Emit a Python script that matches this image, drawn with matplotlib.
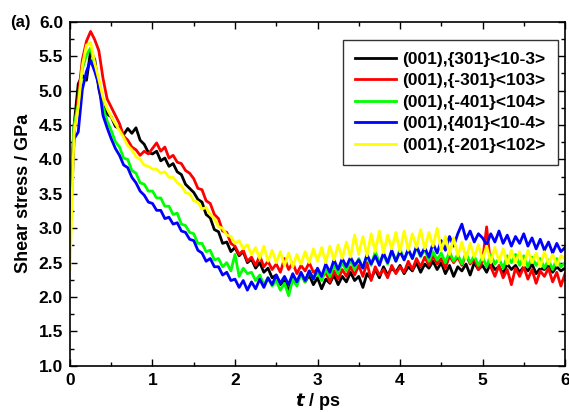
import numpy as np
import matplotlib
matplotlib.use("Agg")
import matplotlib.pyplot as plt
from matplotlib.ticker import MultipleLocator, FormatStrFormatter

plt.rcParams["font.family"] = ["Liberation Sans", "DejaVu Sans"]
plt.rcParams["font.weight"] = "bold"

# shear stress sampled every 0.05 ps, 0 .. 6 ps
T = np.round(np.arange(0, 6.0001, 0.05), 2)

BLACK_301 = [
    3.40, 4.50, 5.10, 5.22, 5.15, 5.58, 5.45, 5.02, 4.78, 4.66,
    4.62, 4.48, 4.45, 4.36, 4.45, 4.38, 4.46, 4.28, 4.22, 4.10,
    4.08, 4.12, 3.98, 4.02, 3.90, 3.94, 3.82, 3.78, 3.64, 3.58,
    3.52, 3.42, 3.38, 3.20, 3.15, 2.98, 2.95, 2.78, 2.80, 2.66,
    2.72, 2.60, 2.66, 2.50, 2.55, 2.42, 2.50, 2.36, 2.42, 2.28,
    2.32, 2.18, 2.24, 2.08, 2.30, 2.20, 2.34, 2.22, 2.32, 2.18,
    2.28, 2.12, 2.26, 2.20, 2.32, 2.18, 2.30, 2.22, 2.36, 2.24,
    2.30, 2.14, 2.34, 2.26, 2.40, 2.28, 2.44, 2.32, 2.42, 2.36,
    2.46, 2.34, 2.44, 2.38, 2.50, 2.36, 2.48, 2.42, 2.52, 2.40,
    2.50, 2.34, 2.46, 2.30, 2.44, 2.38, 2.48, 2.32, 2.50, 2.40,
    2.46, 2.36, 2.50, 2.40, 2.44, 2.34, 2.48, 2.40, 2.46, 2.36,
    2.44, 2.38, 2.48, 2.34, 2.42, 2.40, 2.46, 2.36, 2.44, 2.38,
    2.42,
]

RED_M301 = [
    3.10, 4.40, 4.92, 5.45, 5.72, 5.86, 5.74, 5.58, 5.18, 4.88,
    4.76, 4.64, 4.52, 4.34, 4.28, 4.18, 4.14, 4.06, 4.12, 4.08,
    4.16, 4.24, 4.12, 4.18, 4.02, 4.06, 3.96, 3.94, 3.84, 3.80,
    3.72, 3.58, 3.56, 3.40, 3.36, 3.20, 3.14, 2.96, 2.94, 2.78,
    2.74, 2.62, 2.68, 2.52, 2.58, 2.46, 2.60, 2.44, 2.52, 2.40,
    2.48, 2.36, 2.56, 2.40, 2.50, 2.34, 2.46, 2.38, 2.50, 2.36,
    2.40, 2.28, 2.36, 2.22, 2.38, 2.26, 2.40, 2.30, 2.44, 2.32,
    2.46, 2.30, 2.50, 2.24, 2.44, 2.32, 2.40, 2.28, 2.46, 2.34,
    2.44, 2.36, 2.52, 2.40, 2.56, 2.44, 2.58, 2.46, 2.60, 2.48,
    2.56, 2.42, 2.60, 2.50, 2.58, 2.46, 2.62, 2.48, 2.56, 2.40,
    2.52, 3.02, 2.44, 2.30, 2.46, 2.28, 2.40, 2.18, 2.42, 2.30,
    2.44, 2.26, 2.40, 2.20, 2.38, 2.30, 2.42, 2.22, 2.36, 2.16,
    2.34,
]

GREEN_M401 = [
    3.30, 4.50, 4.80, 5.32, 5.52, 5.62, 5.36, 5.12, 4.76, 4.56,
    4.42, 4.26, 4.18, 4.02, 4.00, 3.84, 3.80, 3.66, 3.64, 3.54,
    3.54, 3.44, 3.44, 3.32, 3.32, 3.20, 3.22, 3.06, 3.04, 2.94,
    2.92, 2.78, 2.78, 2.66, 2.68, 2.54, 2.56, 2.44, 2.50, 2.38,
    2.62, 2.30, 2.42, 2.34, 2.36, 2.24, 2.32, 2.18, 2.28, 2.16,
    2.24, 2.10, 2.20, 2.02, 2.26, 2.16, 2.34, 2.22, 2.38, 2.26,
    2.36, 2.24, 2.40, 2.30, 2.46, 2.34, 2.50, 2.38, 2.54, 2.40,
    2.56, 2.42, 2.60, 2.46, 2.66, 2.50, 2.62, 2.48, 2.66, 2.52,
    2.70, 2.54, 2.68, 2.56, 2.72, 2.58, 2.70, 2.52, 2.66, 2.54,
    2.64, 2.50, 2.66, 2.52, 2.62, 2.48, 2.64, 2.50, 2.60, 2.46,
    2.58, 2.44, 2.62, 2.48, 2.56, 2.42, 2.60, 2.50, 2.62, 2.46,
    2.60, 2.44, 2.58, 2.46, 2.56, 2.42, 2.54, 2.40, 2.56, 2.44,
    2.50,
]

BLUE_401 = [
    2.90, 4.30, 4.40, 5.02, 5.28, 5.44, 5.28, 5.08, 4.64, 4.46,
    4.30, 4.16, 4.06, 3.92, 3.88, 3.74, 3.66, 3.54, 3.48, 3.38,
    3.36, 3.26, 3.26, 3.14, 3.16, 3.06, 3.08, 2.96, 2.94, 2.84,
    2.82, 2.68, 2.64, 2.52, 2.56, 2.44, 2.44, 2.32, 2.36, 2.24,
    2.26, 2.14, 2.24, 2.10, 2.22, 2.12, 2.26, 2.14, 2.28, 2.18,
    2.32, 2.20, 2.30, 2.18, 2.34, 2.22, 2.36, 2.24, 2.38, 2.26,
    2.42, 2.30, 2.48, 2.36, 2.54, 2.40, 2.56, 2.44, 2.58, 2.46,
    2.54, 2.42, 2.62, 2.48, 2.60, 2.46, 2.64, 2.50, 2.68, 2.52,
    2.66, 2.54, 2.70, 2.56, 2.74, 2.60, 2.72, 2.58, 2.78, 2.64,
    2.82, 2.68, 2.88, 2.74, 2.92, 3.06, 2.84, 2.96, 2.80, 2.92,
    2.86, 2.76, 2.92, 2.80, 2.96, 2.78, 2.90, 2.74, 2.88, 2.78,
    2.92, 2.74, 2.86, 2.70, 2.84, 2.68, 2.80, 2.64, 2.78, 2.66,
    2.72,
]

YELLOW_M201 = [
    2.40, 4.40, 4.76, 5.36, 5.66, 5.70, 5.40, 5.16, 4.90, 4.74,
    4.62, 4.52, 4.42, 4.32, 4.20, 4.14, 4.04, 4.00, 3.92, 3.90,
    3.86, 3.86, 3.80, 3.82, 3.74, 3.74, 3.66, 3.62, 3.52, 3.50,
    3.40, 3.38, 3.28, 3.30, 3.20, 3.14, 3.02, 3.00, 2.90, 2.88,
    2.78, 2.82, 2.70, 2.76, 2.62, 2.72, 2.56, 2.74, 2.52, 2.68,
    2.50, 2.66, 2.46, 2.64, 2.44, 2.62, 2.48, 2.66, 2.50, 2.70,
    2.52, 2.72, 2.50, 2.74, 2.54, 2.76, 2.56, 2.80, 2.58, 2.90,
    2.62, 2.88, 2.60, 2.92, 2.66, 2.96, 2.64, 2.90, 2.70, 2.94,
    2.66, 2.96, 2.68, 2.92, 2.72, 2.98, 2.70, 2.94, 2.74, 3.00,
    2.68, 2.88, 2.62, 2.86, 2.60, 2.80, 2.56, 2.78, 2.58, 2.76,
    2.54, 2.74, 2.50, 2.72, 2.52, 2.70, 2.48, 2.68, 2.50, 2.66,
    2.46, 2.68, 2.50, 2.64, 2.44, 2.66, 2.48, 2.62, 2.46, 2.60,
    2.56,
]

SERIES = [
    ("(001),{301}<10-3>", BLACK_301, "#000000"),
    ("(001),{-301}<103>", RED_M301, "#ff0000"),
    ("(001),{-401}<104>", GREEN_M401, "#00ff00"),
    ("(001),{401}<10-4>", BLUE_401, "#0000ff"),
    ("(001),{-201}<102>", YELLOW_M201, "#ffff00"),
]

fig = plt.figure(figsize=(5.69, 4.12), dpi=100)
ax = fig.add_axes([0.123, 0.112, 0.870, 0.835])

for label, vals, color in SERIES:
    ax.plot(T, vals, color=color, lw=2.0, label=label)

ax.set_xlim(0, 6)
ax.set_ylim(1.0, 6.0)
ax.xaxis.set_major_locator(MultipleLocator(1))
ax.xaxis.set_minor_locator(MultipleLocator(0.5))
ax.yaxis.set_major_locator(MultipleLocator(0.5))
ax.yaxis.set_minor_locator(MultipleLocator(0.25))
ax.yaxis.set_major_formatter(FormatStrFormatter("%.1f"))
ax.tick_params(which="both", direction="in", top=True, right=True,
               width=1.0, labelsize=12.5)
ax.tick_params(which="major", length=5, pad=5)
ax.tick_params(which="minor", length=3)
for lbl in ax.get_xticklabels() + ax.get_yticklabels():
    lbl.set_fontweight("bold")
for sp in ax.spines.values():
    sp.set_linewidth(1.2)

ax.set_xlabel(r"$\bfit{t}$ / ps", fontsize=13, fontweight="bold", labelpad=2)
ax.set_ylabel("Shear stress / GPa", fontsize=13, fontweight="bold", labelpad=5)
fig.text(0.018, 0.935, "(a)", fontsize=12, fontweight="bold")

leg = ax.legend(loc="upper right", bbox_to_anchor=(0.986, 0.948),
                borderaxespad=0, fontsize=12.5, frameon=True, fancybox=False,
                edgecolor="black", handlelength=2.4, labelspacing=0.36,
                borderpad=0.7, handletextpad=0.35)
leg.get_frame().set_linewidth(1.0)
for txt in leg.get_texts():
    txt.set_fontweight("bold")

fig.savefig("out.png", dpi=100)
